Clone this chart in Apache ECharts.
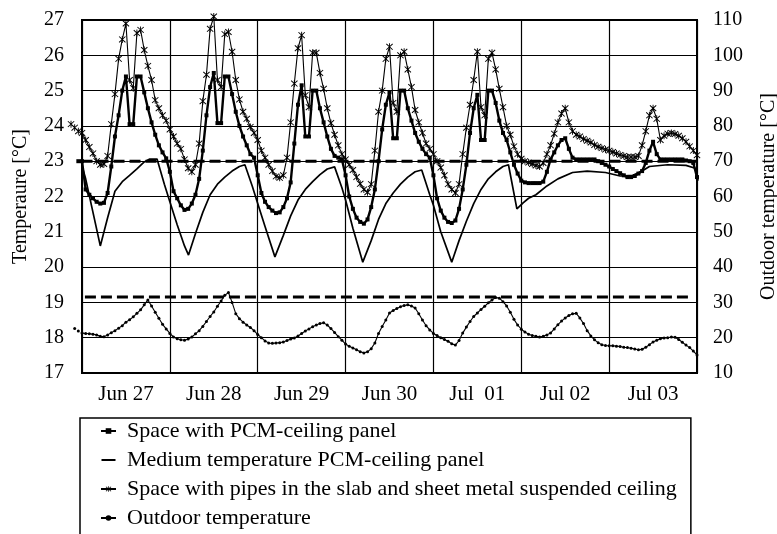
<!DOCTYPE html>
<html>
<head>
<meta charset="utf-8">
<script src="https://cdn.jsdelivr.net/npm/echarts@6/dist/echarts.min.js"></script>
<style>
  html, body { margin: 0; padding: 0; background: #fff; }
  #chart { width: 777px; height: 534px; }
</style>
</head>
<body>
<div id="chart"></div>
<script>
// Day labels under the x axis (one per 24 h band)
const dayLabels = ['Jun 27', 'Jun 28', 'Jun 29', 'Jun 30', 'Jul  01', 'Jul 02', 'Jul 03'];

// Left axis ticks [°C] and right axis ticks [°C]
const leftTicks = [17, 27, 1];
const rightTicks = [10, 110, 10];

// Space with PCM-ceiling panel, hourly values [°C], first value at hour -1
const pcmStartHour = -1;
const pcmSpace = [
  23.0,
  23.0, 22.2, 22.05, 21.95, 21.85, 21.8, 21.82, 22.1, 22.85, 23.7, 24.3, 25.0, 25.4, 24.05, 24.05, 25.4, 25.4, 24.95, 24.5, 24.1, 23.75, 23.45, 23.25, 23.08,
  22.7, 22.15, 21.95, 21.75, 21.62, 21.65, 21.8, 22.05, 22.5, 23.3, 24.3, 25.1, 25.5, 24.08, 24.08, 25.4, 25.4, 24.9, 24.4, 24.0, 23.7, 23.45, 23.2, 23.1,
  22.6, 22.1, 21.85, 21.7, 21.6, 21.53, 21.55, 21.7, 21.95, 22.4, 23.5, 24.6, 25.15, 23.7, 23.7, 25.0, 25.0, 24.5, 24.1, 23.7, 23.35, 23.15, 23.1, 23.05,
  22.6, 22.0, 21.65, 21.4, 21.28, 21.23, 21.35, 21.7, 22.2, 23.0, 23.9, 24.6, 24.95, 23.65, 23.65, 25.0, 25.0, 24.5, 24.15, 23.8, 23.55, 23.35, 23.2, 23.1,
  22.6, 21.95, 21.6, 21.4, 21.28, 21.25, 21.32, 21.65, 22.2, 22.9, 23.8, 24.5, 24.88, 23.6, 23.6, 25.0, 25.0, 24.65, 24.15, 23.8, 23.6, 23.25, 22.9, 22.65,
  22.45, 22.4, 22.38, 22.38, 22.38, 22.38, 22.42, 22.7, 23.05, 23.25, 23.45, 23.6, 23.65, 23.35, 23.1, 23.05, 23.05, 23.05, 23.05, 23.05, 23.05, 23.0, 22.95, 22.9,
  22.85, 22.78, 22.72, 22.66, 22.6, 22.55, 22.55, 22.58, 22.65, 22.72, 22.95, 23.3, 23.55, 23.2, 23.05, 23.05, 23.05, 23.05, 23.05, 23.05, 23.05, 23.02, 23.0, 22.95,
  22.55
];

// Medium temperature of the PCM-ceiling panel [°C] at the given hours
const mediumHours = [
  -4, -2, -0.5, 1, 3, 5, 7, 9, 11, 13, 15, 17, 18.5, 20.5,
  22.5, 24, 26, 28, 29.1, 31, 33, 35, 37, 39, 41, 43, 44.5,
  46.5, 48, 50, 52.7, 55, 57, 59, 61, 63, 65, 67, 69,
  71, 72, 74, 76.7, 79, 81, 83, 85, 87, 89, 91, 92.8,
  95, 96, 98, 101, 103, 105, 107, 109, 111, 113, 115, 116.5,
  118.8, 120.5, 122, 124, 127, 130, 134, 138, 143, 147, 150.5, 153, 155, 160, 165, 167.5, 168.3
];
const mediumPanel = [
  23.42, 23.25, 23.05, 22.5, 21.55, 20.6, 21.4, 22.15, 22.42, 22.6, 22.78, 22.98, 23.06, 23.06,
  22.35, 21.85, 21.2, 20.6, 20.34, 20.95, 21.55, 22.05, 22.35, 22.55, 22.72, 22.85, 22.9,
  22.3, 21.8, 21.15, 20.29, 20.9, 21.45, 21.9, 22.2, 22.42, 22.62, 22.78, 22.84,
  22.25, 21.9, 21.1, 20.14, 20.75, 21.35, 21.8, 22.1, 22.35, 22.55, 22.7, 22.75,
  22.05, 21.75, 21.0, 20.14, 20.75, 21.3, 21.8, 22.2, 22.5, 22.7, 22.85, 22.9,
  21.65, 21.82, 21.95, 22.05, 22.3, 22.5, 22.68, 22.72, 22.68, 22.58, 22.6, 22.72, 22.85, 22.9, 22.88, 22.8, 22.45
];

// Space with pipes in the slab and sheet metal suspended ceiling, hourly [°C], first value at hour -3
const pipesStartHour = -3;
const pipesSpace = [
  24.05, 23.95, 23.85,
  23.8, 23.6, 23.4, 23.22, 23.0, 22.9, 22.92, 23.15, 24.05, 24.9, 25.9, 26.45, 26.9, 25.3, 25.07, 26.63, 26.72, 26.15, 25.7, 25.3, 24.73, 24.5, 24.3, 24.15,
  23.9, 23.7, 23.5, 23.35, 23.05, 22.8, 22.7, 22.9, 23.5, 24.7, 25.45, 26.75, 27.1, 25.3, 25.1, 26.6, 26.66, 26.1, 25.3, 24.75, 24.4, 24.2, 23.97, 23.8,
  23.6, 23.3, 23.1, 22.9, 22.72, 22.57, 22.53, 22.6, 23.1, 24.1, 25.2, 26.2, 26.57, 24.87, 24.53, 26.07, 26.07, 25.5, 25.05, 24.5, 24.08, 23.75, 23.45, 23.2,
  23.05, 22.9, 22.75, 22.55, 22.36, 22.2, 22.12, 22.35, 23.3, 24.4, 25.0, 25.9, 26.24, 24.65, 24.4, 26.0, 26.1, 25.6, 25.1, 24.45, 24.1, 23.8, 23.5, 23.35,
  23.2, 23.0, 22.82, 22.6, 22.35, 22.2, 22.1, 22.35, 23.2, 23.95, 24.6, 25.3, 26.1, 24.53, 24.3, 25.9, 26.07, 25.6, 25.05, 24.53, 24.0, 23.75, 23.42, 23.2,
  23.07, 23.0, 22.96, 22.92, 22.88, 22.85, 22.95, 23.2, 23.45, 23.78, 24.1, 24.35, 24.5, 24.1, 23.85, 23.75, 23.7, 23.63, 23.58, 23.53, 23.46, 23.41, 23.37, 23.33,
  23.3, 23.26, 23.22, 23.18, 23.15, 23.12, 23.12, 23.12, 23.15, 23.45, 23.85, 24.3, 24.5, 24.2, 23.6, 23.72, 23.78, 23.8, 23.77, 23.72, 23.65, 23.55, 23.42, 23.3,
  23.17
];

// Outdoor temperature, hourly [°C] (right axis), first value at hour -2
const outdoorStartHour = -2;
const outdoorTemp = [
  22.6, 21.9,
  21.3, 21.2, 21.1, 21.0, 20.8, 20.4, 20.3, 20.8, 21.4, 22.0, 22.7, 23.4, 24.4, 25.1, 25.9, 26.9, 27.9, 29.3, 30.7, 29.0, 27.2, 25.5, 23.8, 22.5,
  21.2, 20.2, 19.7, 19.4, 19.3, 19.6, 20.2, 21.1, 22.0, 23.2, 24.6, 26.0, 27.3, 28.9, 30.4, 32.0, 32.8, 30.0, 26.8, 25.4, 24.4, 23.6, 22.9, 22.0,
  20.9, 20.0, 19.1, 18.5, 18.4, 18.5, 18.6, 18.8, 19.2, 19.6, 19.9, 20.5, 21.2, 21.9, 22.5, 23.1, 23.6, 24.0, 24.2, 23.6, 22.6, 21.5, 20.3, 19.3,
  18.2, 17.6, 17.1, 16.6, 16.0, 15.7, 16.0, 16.9, 18.5, 21.2, 23.2, 25.0, 27.0, 27.7, 28.3, 28.8, 29.1, 29.3, 29.0, 28.4, 26.8, 25.0, 23.4, 22.2,
  21.2, 20.6, 20.0, 19.5, 19.0, 18.3, 17.9, 19.2, 21.3, 23.0, 24.6, 26.0, 27.0, 28.0, 28.9, 29.9, 30.7, 31.4, 31.2, 30.2, 29.0, 27.2, 25.2, 23.6,
  22.4, 21.6, 21.0, 20.6, 20.4, 20.2, 20.4, 20.8, 21.3, 22.5, 23.7, 24.7, 25.6, 26.3, 26.8, 26.9, 25.6, 24.0, 22.0, 20.5, 19.4, 18.6, 18.0, 17.8,
  17.7, 17.7, 17.6, 17.5, 17.3, 17.2, 17.0, 16.8, 16.6, 16.7, 17.3, 18.0, 18.8, 19.3, 19.7, 19.9, 20.0, 20.2, 20.1, 19.5, 18.7, 17.9, 17.2, 16.2,
  15.1
];

// Dashed reference levels: room set point (left axis) and outdoor level (right axis)
const setpointHours = [-4.5, 168];
const setpointTemp = [23, 23];
const outdoorRefHours = [0.8, 165.6];
const outdoorRefTemp = [31.5, 31.5];

function hourly(start, values) {
  return values.map(function (v, i) { return [start + i, v]; });
}
function paired(hours, values) {
  return hours.map(function (h, i) { return [h, values[i]]; });
}

// Asterisk marker: vertical bar plus a diagonal cross
const asterisk = 'path://M4.4,0 L5.6,0 L5.6,10 L4.4,10 Z M0.4,1.3 L1.3,0.4 L9.6,8.7 L8.7,9.6 Z M8.7,0.4 L9.6,1.3 L1.3,9.6 L0.4,8.7 Z';
// Plain line legend icon (bar; tiny corner specks keep the full icon box)
const plainLineIcon = 'path://M0,3.4 L20,3.4 L20,6.6 L0,6.6 Z M0,0 L0.01,0 L0,0.01 Z M20,10 L19.99,10 L20,9.99 Z';

const serif = 'Liberation Serif';
const chart = echarts.init(document.getElementById('chart'), null, { renderer: 'canvas' });

chart.setOption({
  animation: false,
  backgroundColor: '#fff',
  textStyle: { fontFamily: serif, color: '#000' },
  grid: {
    left: 82, right: 80, top: 20, bottom: 161,
    outerBoundsMode: 'none', containLabel: false,
    show: true, borderColor: '#000', borderWidth: 2, backgroundColor: 'transparent'
  },
  legend: {
    orient: 'vertical',
    left: 80, top: 418,
    height: 300,
    padding: [2, 14, 40, 20],
    itemGap: 7,
    itemWidth: 15, itemHeight: 7,
    borderColor: '#000', borderWidth: 1.5,
    textStyle: { fontFamily: serif, fontSize: 22, color: '#000', lineHeight: 22, padding: [0, 0, 0, 6] },
    data: [
      'Space with PCM-ceiling panel',
      { name: 'Medium temperature PCM-ceiling panel', icon: plainLineIcon, itemStyle: { color: '#000' } },
      'Space with pipes in the slab and sheet metal suspended ceiling',
      'Outdoor temperature'
    ]
  },
  xAxis: [
    {
      type: 'value', min: 0, max: 168, interval: 24,
      axisLine: { show: false }, axisTick: { show: false }, axisLabel: { show: false },
      splitLine: { show: true, lineStyle: { color: '#000', width: 1.2 } }
    },
    {
      type: 'category', data: dayLabels, boundaryGap: true, position: 'bottom',
      axisLine: { show: false }, axisTick: { show: false }, splitLine: { show: false },
      axisLabel: { fontFamily: serif, fontSize: 21, color: '#000', margin: 11 }
    }
  ],
  yAxis: [
    {
      type: 'value', min: leftTicks[0], max: leftTicks[1], interval: leftTicks[2], position: 'left',
      name: 'Temperaure [°C]', nameLocation: 'middle', nameGap: 51,
      nameTextStyle: { fontFamily: serif, fontSize: 20, color: '#000' },
      axisLine: { show: false }, axisTick: { show: false },
      axisLabel: { fontFamily: serif, fontSize: 20, color: '#000', margin: 18 },
      splitLine: { show: true, lineStyle: { color: '#000', width: 1.2 } }
    },
    {
      type: 'value', min: rightTicks[0], max: rightTicks[1], interval: rightTicks[2], position: 'right',
      name: 'Outdoor temperature [°C]', nameLocation: 'middle', nameGap: 62,
      nameTextStyle: { fontFamily: serif, fontSize: 20, color: '#000' },
      axisLine: { show: false }, axisTick: { show: false },
      axisLabel: { fontFamily: serif, fontSize: 20, color: '#000', margin: 16 },
      splitLine: { show: false }
    }
  ],
  series: [
    {
      name: 'Space with PCM-ceiling panel', type: 'line', xAxisIndex: 0, yAxisIndex: 0,
      data: hourly(pcmStartHour, pcmSpace), clip: false, z: 5,
      symbol: 'rect', symbolSize: 4, showSymbol: true,
      lineStyle: { color: '#000', width: 2.4 }, itemStyle: { color: '#000' }
    },
    {
      name: 'Medium temperature PCM-ceiling panel', type: 'line', xAxisIndex: 0, yAxisIndex: 0,
      data: paired(mediumHours, mediumPanel), clip: false, z: 4,
      symbol: 'none', showSymbol: false,
      lineStyle: { color: '#000', width: 1.7 }, itemStyle: { color: '#000' }
    },
    {
      name: 'Space with pipes in the slab and sheet metal suspended ceiling', type: 'line', xAxisIndex: 0, yAxisIndex: 0,
      data: hourly(pipesStartHour, pipesSpace), clip: false, z: 4,
      symbol: asterisk, symbolSize: 7, showSymbol: true,
      lineStyle: { color: '#000', width: 1.1 }, itemStyle: { color: '#000' }
    },
    {
      name: 'Outdoor temperature', type: 'line', xAxisIndex: 0, yAxisIndex: 1,
      data: hourly(outdoorStartHour, outdoorTemp), clip: false, z: 4,
      symbol: 'circle', symbolSize: 3, showSymbol: true,
      lineStyle: { color: '#000', width: 1.1 }, itemStyle: { color: '#000' }
    },
    {
      name: 'setpoint', type: 'line', xAxisIndex: 0, yAxisIndex: 0,
      data: paired(setpointHours, setpointTemp), clip: false, z: 6, silent: true,
      symbol: 'none', lineStyle: { color: '#000', width: 3, type: [11, 5] }
    },
    {
      name: 'outdoor reference', type: 'line', xAxisIndex: 0, yAxisIndex: 1,
      data: paired(outdoorRefHours, outdoorRefTemp), clip: false, z: 6, silent: true,
      symbol: 'none', lineStyle: { color: '#000', width: 3, type: [11, 5] }
    }
  ]
});
</script>
</body>
</html>
